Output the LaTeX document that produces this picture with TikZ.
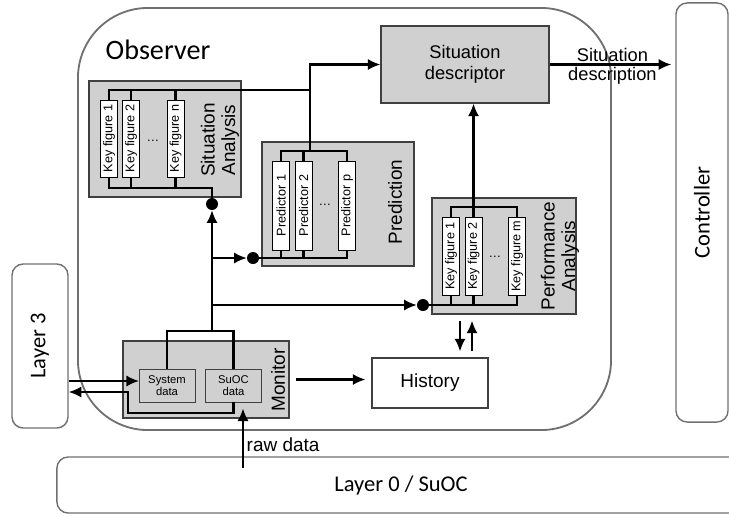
\documentclass[tikz,border=0pt]{standalone}
\usepackage{fontspec}
\setmainfont{Liberation Sans}
\newfontfamily\calfont{Carlito}
\usepackage{graphicx}
\usetikzlibrary{arrows.meta, calc}
\definecolor{boxgray}{RGB}{208,208,208}
\definecolor{framegray}{RGB}{112,112,112}
\newcommand{\fsz}[1]{\fontsize{#1}{#1}\selectfont}
\tikzstyle{frame} = [rectangle, rounded corners=0.28cm, draw=framegray, line width=1pt, inner sep=0pt, font=\calfont\fsz{16}]
\tikzstyle{unit} = [rectangle, draw=black!75, fill=boxgray, line width=0.8pt, inner sep=0pt]
\tikzstyle{keybox} = [rectangle, draw=black, fill=white, line width=0.6pt, inner sep=0pt, minimum width=0.425cm, font=\fsz{9}]
\tikzstyle{datum} = [rectangle, draw=black!75, fill=boxgray, line width=0.6pt, inner sep=0pt, minimum width=1.4cm, minimum height=0.825cm, align=center, font=\fontsize{8}{9}\selectfont]
\tikzstyle{caption} = [rotate=90, align=center, inner sep=0pt, font=\fontsize{13.5}{14.5}\selectfont]
\tikzstyle{bus} = [line width=1.5pt]
\tikzstyle{arrow} = [line width=1.5pt, -{Latex[length=9pt,width=8pt]}]
\tikzstyle{dot} = [circle, fill=black, inner sep=0pt, minimum size=0.3cm]

\begin{document}
\begin{tikzpicture}[x=0.025cm, y=-0.025cm]
\useasboundingbox (0,0) rectangle (729,516);

% outer frames
\node at (344.5,219) (observer) [frame, line width=1.3pt, rounded corners=1.75cm, minimum width=13.325cm, minimum height=10.55cm] {};
\node at (158,50) (obslabel) [font=\calfont\fsz{20}] {Observer};
\node at (702,212.5) (controller) [frame, minimum width=1.3cm, minimum height=10.475cm] {\rotatebox{90}{Controller}};
\node at (40,346) (layer3) [frame, minimum width=1.4cm, minimum height=4.1cm] {\rotatebox{90}{Layer 3}};
\node at (401,485) (layer0) [frame, minimum width=17.2cm, minimum height=1.4cm] {Layer 0 / SuOC};

% situation analysis
\node at (165,139) (sa) [unit, minimum width=3.8cm, minimum height=2.9cm] {};
\node at (109,138.5) (kfa1) [keybox, minimum height=1.925cm] {\rotatebox{90}{Key figure 1}};
\node at (131,138.5) (kfa2) [keybox, minimum height=1.925cm] {\rotatebox{90}{Key figure 2}};
\node at (175.5,138.5) (kfan) [keybox, minimum height=1.925cm] {\rotatebox{90}{Key figure n}};
\node at (153,141) (sadots) [font=\fsz{9}] {\dots};
\node at (220,140) (salabel) [caption] {Situation\\Analysis};

% prediction
\node at (338,204) (pred) [unit, minimum width=3.8cm, minimum height=3.1cm] {};
\node at (281,205.5) (pr1) [keybox, minimum height=2.225cm] {\rotatebox{90}{Predictor 1}};
\node at (303.5,205.5) (pr2) [keybox, minimum height=2.225cm] {\rotatebox{90}{Predictor 2}};
\node at (347,205.5) (prp) [keybox, minimum height=2.225cm] {\rotatebox{90}{Predictor p}};
\node at (325,205) (prdots) [font=\fsz{9}] {\dots};
\node at (395,202) (predlabel) [caption] {Prediction};

% performance analysis
\node at (504,256) (pa) [unit, minimum width=3.6cm, minimum height=2.9cm] {};
\node at (451,256) (kfb1) [keybox, minimum height=1.95cm] {\rotatebox{90}{Key figure 1}};
\node at (473.5,256) (kfb2) [keybox, minimum height=1.95cm] {\rotatebox{90}{Key figure 2}};
\node at (517,256) (kfbm) [keybox, minimum height=1.95cm] {\rotatebox{90}{Key figure m}};
\node at (495,257) (padots) [font=\fsz{9}] {\dots};
\node at (560,256) (palabel) [caption] {Performance\\Analysis};

% situation descriptor, monitor, history
\node at (465,64.5) (sd) [unit, minimum width=4.2cm, minimum height=1.925cm, align=center, font=\fontsize{13}{15}\selectfont] {Situation\\descriptor};
\node at (206,379.5) (monitor) [unit, minimum width=4.15cm, minimum height=1.925cm] {};
\node at (167,385.5) (sys) [datum] {System\\data};
\node at (233.5,385.5) (suoc) [datum] {SuOC\\data};
\node at (278,380) (monlabel) [caption] {Monitor};
\node at (430,383) (history) [rectangle, draw=black!75, fill=white, line width=0.8pt, minimum width=2.9cm, minimum height=1.25cm, font=\fsz{13.5}] {History};

% junctions
\node at (212,204) (sadot) [dot] {};
\node at (253,258) (pdot) [dot] {};
\node at (423,305) (padot) [dot] {};
\coordinate (jn) at (310,90);
\coordinate (ptop) at (310,151);
\coordinate (sabus) at (212,188);
\coordinate (patop) at (473.5,207);
\coordinate (mtop) at (212,331);
\coordinate (sysin) at (139,381);
\coordinate (ret) at (128,413);
\coordinate (retout) at (0,392);
\coordinate (rawsrc) at (243,468);
\coordinate (hdn) at ($(history.north)+(30,0)$);
\coordinate (hup) at ($(history.north)+(42,0)$);

% situation analysis buses
\draw [bus] (kfa1.north) |- (jn);
\draw [bus] (kfa2.north) -- (kfa2.north |- jn);
\draw [bus] (kfan.north) -- (kfan.north |- jn);
\draw [bus] (kfa1.south) |- (sabus) -- (sadot);
\draw [bus] (kfa2.south) -- (kfa2.south |- sabus);
\draw [bus] (kfan.south) -- (kfan.south |- sabus);

% prediction buses
\draw [bus] (pr1.north) |- (ptop) -| (prp.north);
\draw [bus] (pr2.north) -- (pr2.north |- ptop);
\draw [arrow] (ptop) |- (sd.west);
\draw [bus] (pdot) -| (prp.south);
\draw [bus] (pr1.south) -- (pr1.south |- pdot);
\draw [bus] (pr2.south) -- (pr2.south |- pdot);

% performance analysis buses
\draw [bus] (kfb1.north) |- (patop) -| (kfbm.north);
\draw [arrow] (kfb2.north) -- (kfb2.north |- sd.south);
\draw [bus] (padot) -| (kfbm.south);
\draw [bus] (kfb1.south) -- (kfb1.south |- padot);
\draw [bus] (kfb2.south) -- (kfb2.south |- padot);

% monitor outputs
\draw [bus] (sys.north) |- (mtop) -| (suoc.north);
\draw [arrow] (mtop) -- (sadot);
\draw [arrow] (mtop |- pdot) -- (pdot);
\draw [arrow] (mtop |- padot) -- (padot);
\draw [arrow, shorten <=0.15cm, shorten >=0.15cm] (monitor.east) -- (history.west |- monitor.east);
\draw [arrow, shorten <=0.15cm, shorten >=0.15cm] (pa.south -| hdn) -- (hdn);
\draw [arrow, shorten <=0.15cm, shorten >=0.15cm] (hup) -- (pa.south -| hup);

% layer 3 and raw data
\draw [arrow] (layer3.east |- sysin) -- (sysin);
\draw [arrow] (suoc.south) |- (ret) |- (layer3.east |- retout);
\draw [arrow, shorten >=0.15cm] (rawsrc) -- (rawsrc |- suoc.south);
\node at (245,445) (rawlabel) [anchor=west, inner sep=1pt, font=\fsz{13.5}] {raw data};

% output
\draw [arrow, shorten >=0.1cm] (sd.east) -- (controller.west |- sd.east)
  node [midway, above, inner sep=1.5pt, font=\fsz{13}] {Situation}
  node [midway, below, inner sep=1.5pt, font=\fsz{13}] {description};

\end{tikzpicture}
\end{document}
